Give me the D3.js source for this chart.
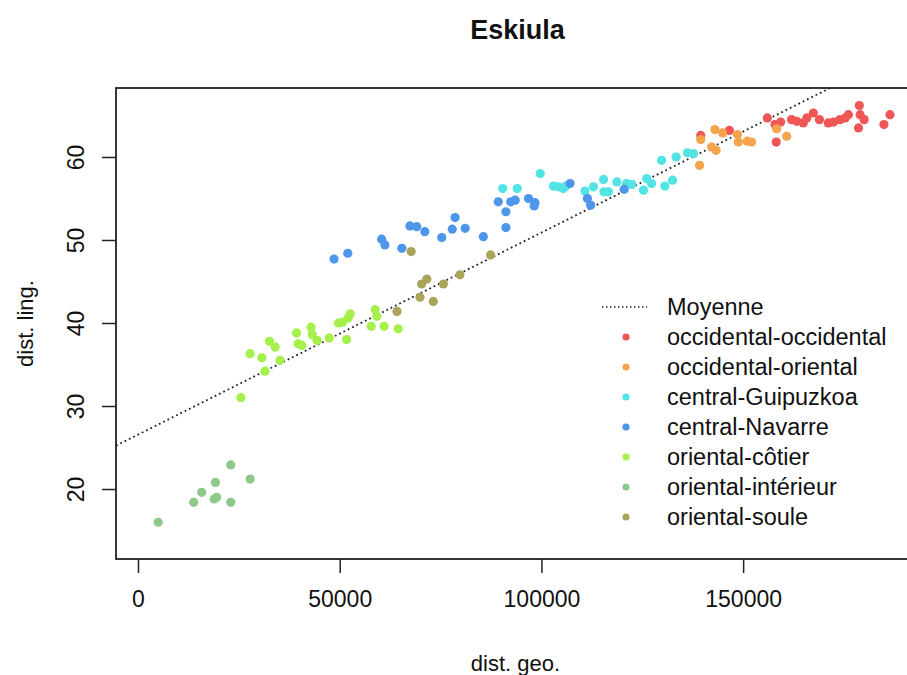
<!DOCTYPE html>
<html>
<head>
<meta charset="utf-8">
<script src="https://cdn.jsdelivr.net/npm/d3@7"></script>
<style>
  body { margin: 0; background: #fff; }
  svg { display: block; font-family: "Liberation Sans", Arial, sans-serif; }
</style>
</head>
<body>
<div id="chart"></div>
<script>
// groups, in legend order
const groups = [
  "occidental-occidental",
  "occidental-oriental",
  "central-Guipuzkoa",
  "central-Navarre",
  "oriental-côtier",
  "oriental-intérieur",
  "oriental-soule",
];
const groupColors = ["#ef5656", "#f5a34c", "#52e3e3", "#4d96ea", "#a5f04a", "#8cc98a", "#a9a45a"];

// [dist. geo., dist. ling.]
const occidentalOccidental = [
  [139500, 62.6], [146600, 63.2], [156000, 64.7], [157900, 63.9], [158200, 61.8], [159300, 64.2],
  [162000, 64.5], [163300, 64.3], [164900, 64.1], [165800, 64.7], [167400, 65.3], [168900, 64.5],
  [171100, 64.1], [172400, 64.2], [174000, 64.5], [175300, 64.7], [176100, 65.1], [178800, 66.2],
  [179000, 65.1], [180000, 64.5], [178600, 63.5], [184900, 63.9], [186400, 65.1],
];
const occidentalOriental = [
  [139200, 59.0], [139500, 62.1], [143000, 63.3], [144900, 62.9], [143300, 60.8], [142200, 61.2],
  [148600, 62.7], [148800, 61.8], [151000, 61.9], [152100, 61.8], [158300, 63.4], [160800, 62.5],
];
const centralGuipuzkoa = [
  [90400, 56.2], [94000, 56.2], [99700, 58.0], [103000, 56.5], [104200, 56.4], [105400, 56.2],
  [106100, 56.5], [110800, 55.9], [112900, 56.4], [115400, 57.3], [115500, 55.8], [116600, 55.8],
  [118700, 57.0], [121100, 56.8], [122400, 56.7], [125300, 56.0], [126100, 57.4], [127300, 56.8],
  [130600, 56.5], [132500, 57.2], [129800, 59.6], [133400, 60.0], [136200, 60.5], [137700, 60.4],
];
const centralNavarre = [
  [48600, 47.7], [52000, 48.4], [60400, 50.1], [61200, 49.4], [65400, 49.0], [67400, 51.7],
  [69100, 51.6], [71100, 51.0], [75300, 50.3], [77900, 51.3], [78600, 52.7], [81100, 51.4],
  [85600, 50.4], [89300, 54.6], [91200, 51.5], [91200, 53.4], [92400, 54.6], [93500, 54.8],
  [96800, 55.0], [98400, 54.5], [98200, 54.1], [107100, 56.8], [111400, 55.0], [112200, 54.2],
  [120500, 56.1],
];
const orientalCotier = [
  [25500, 31.0], [27800, 36.3], [30700, 35.8], [31500, 34.2], [32600, 37.8], [34000, 37.1],
  [35200, 35.5], [39300, 38.8], [39700, 37.5], [40600, 37.3], [42900, 39.5], [43200, 38.6],
  [44400, 37.9], [47400, 38.2], [49700, 40.0], [50700, 40.1], [52100, 40.6], [52600, 41.1],
  [51700, 38.0], [57800, 39.6], [58800, 41.6], [59200, 40.8], [61000, 39.6], [64500, 39.3],
];
const orientalInterieur = [
  [5000, 16.0], [13800, 18.4], [15800, 19.6], [19200, 20.8], [18900, 18.8], [19500, 19.0],
  [23000, 22.9], [23000, 18.4], [27800, 21.2],
];
const orientalSoule = [
  [64200, 41.4], [67700, 48.6], [69900, 43.1], [70300, 44.7], [71600, 45.3], [73200, 42.6],
  [75700, 44.7], [79800, 45.8], [87400, 48.2],
];
const seriesPoints = [
  occidentalOccidental, occidentalOriental, centralGuipuzkoa, centralNavarre,
  orientalCotier, orientalInterieur, orientalSoule,
];

// "Moyenne" line: [intercept, slope]
const moyenne = [26.55, 0.0002434];

const xTicks = [0, 50000, 100000, 150000];
const yTicks = [20, 30, 40, 50, 60];
const xLimits = [-5450, 192600];
const yLimits = [11.57, 68.31];

const width = 907;
const height = 675;
const plot = { left: 116, top: 88, right: 915, bottom: 559 };
const tickLen = 14;

const x = d3.scaleLinear().domain(xLimits).range([plot.left, plot.right]);
const y = d3.scaleLinear().domain(yLimits).range([plot.bottom, plot.top]);

const svg = d3.select("#chart")
  .append("svg")
  .attr("width", width)
  .attr("height", height);

svg.append("defs").append("clipPath")
  .attr("id", "plot-clip")
  .append("rect")
  .attr("x", plot.left)
  .attr("y", plot.top)
  .attr("width", plot.right - plot.left)
  .attr("height", plot.bottom - plot.top);

// title
svg.append("text")
  .attr("x", (plot.left + plot.right) / 2 + 2)
  .attr("y", 39)
  .attr("text-anchor", "middle")
  .attr("font-size", 27)
  .attr("font-weight", "bold")
  .attr("fill", "#111")
  .text("Eskiula");

// x axis
const gX = svg.append("g")
  .attr("transform", `translate(0,${plot.bottom})`)
  .call(d3.axisBottom(x).tickValues(xTicks).tickSize(tickLen).tickPadding(18).tickFormat(d3.format("d")));
gX.select(".domain").remove();
gX.selectAll("line").attr("stroke", "#222").attr("stroke-width", 1.5);
gX.selectAll("text").attr("font-size", 23).attr("fill", "#111").attr("font-family", null);

// y axis, labels turned like R does
const gY = svg.append("g")
  .attr("transform", `translate(${plot.left},0)`)
  .call(d3.axisLeft(y).tickValues(yTicks).tickSize(tickLen).tickFormat(d3.format("d")));
gY.select(".domain").remove();
gY.selectAll("line").attr("stroke", "#222").attr("stroke-width", 1.5);
gY.selectAll("text")
  .attr("font-size", 23)
  .attr("fill", "#111")
  .attr("font-family", null)
  .attr("x", null)
  .attr("dy", null)
  .attr("text-anchor", "middle")
  .attr("transform", `translate(${-32},0) rotate(-90)`);

// axis titles
svg.append("text")
  .attr("x", (plot.left + plot.right) / 2)
  .attr("y", 671)
  .attr("text-anchor", "middle")
  .attr("font-size", 22)
  .attr("fill", "#111")
  .text("dist. geo.");

svg.append("text")
  .attr("transform", `translate(33,${(plot.top + plot.bottom) / 2}) rotate(-90)`)
  .attr("text-anchor", "middle")
  .attr("font-size", 22)
  .attr("fill", "#111")
  .text("dist. ling.");

// moyenne
const gPlot = svg.append("g").attr("clip-path", "url(#plot-clip)");
gPlot.append("line")
  .attr("x1", x(xLimits[0]))
  .attr("y1", y(moyenne[0] + moyenne[1] * xLimits[0]))
  .attr("x2", x(xLimits[1]))
  .attr("y2", y(moyenne[0] + moyenne[1] * xLimits[1]))
  .attr("stroke", "#222")
  .attr("stroke-width", 1.8)
  .attr("stroke-dasharray", "1.8,3");

// points, one group at a time in legend order
seriesPoints.forEach((pts, i) => {
  gPlot.append("g")
    .attr("class", "series")
    .selectAll("circle")
    .data(pts)
    .join("circle")
    .attr("cx", (d) => x(d[0]))
    .attr("cy", (d) => y(d[1]))
    .attr("r", 4.6)
    .attr("fill", groupColors[i]);
});

// frame
svg.append("rect")
  .attr("x", plot.left)
  .attr("y", plot.top)
  .attr("width", plot.right - plot.left)
  .attr("height", plot.bottom - plot.top)
  .attr("fill", "none")
  .attr("stroke", "#222")
  .attr("stroke-width", 1.8);

// legend
const legend = svg.append("g").attr("transform", "translate(602,307)");
const rowH = 30;
legend.append("line")
  .attr("x1", 0)
  .attr("x2", 45)
  .attr("stroke", "#222")
  .attr("stroke-width", 1.5)
  .attr("stroke-dasharray", "1.5,2.5");
legend.append("text")
  .attr("x", 65)
  .attr("dy", "0.35em")
  .attr("font-size", 23.5)
  .attr("fill", "#111")
  .text("Moyenne");

const rows = legend.selectAll(".row")
  .data(groups)
  .join("g")
  .attr("class", "row")
  .attr("transform", (d, i) => `translate(0,${(i + 1) * rowH})`);
rows.append("circle")
  .attr("cx", 24)
  .attr("r", 3.6)
  .attr("fill", (d, i) => groupColors[i]);
rows.append("text")
  .attr("x", 65)
  .attr("dy", "0.35em")
  .attr("font-size", 23.5)
  .attr("fill", "#111")
  .text((d) => d);
</script>
</body>
</html>
